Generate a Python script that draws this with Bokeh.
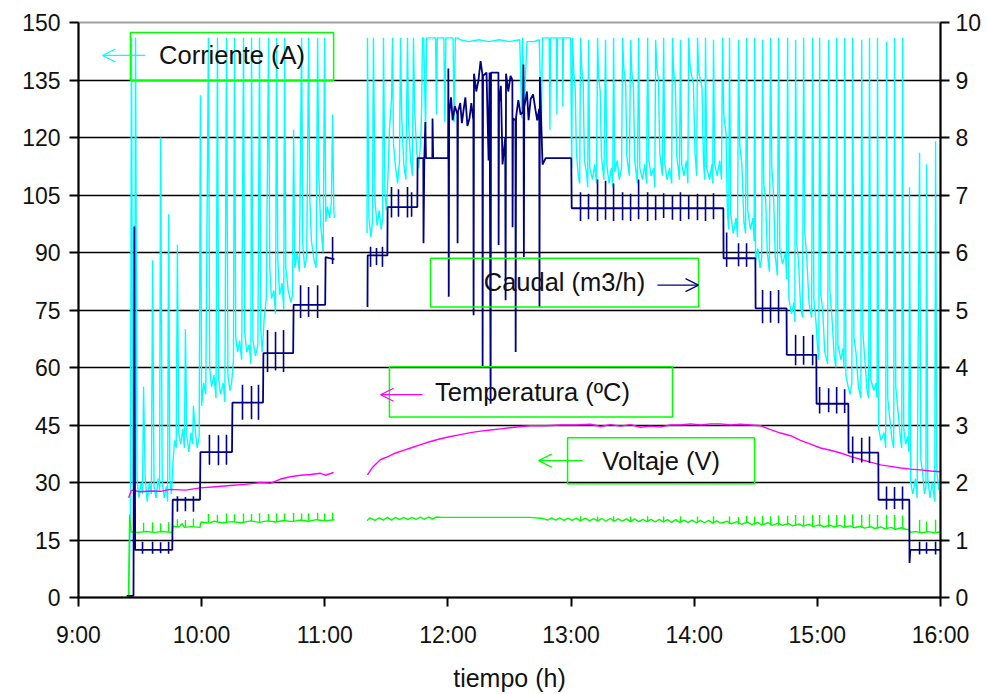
from bokeh.plotting import figure
from bokeh.models import Range1d, LinearAxis, FixedTicker, Arrow, OpenHead
from bokeh.core.properties import value
from bokeh.embed import file_html
from bokeh.resources import INLINE

NaN = float("nan")

# ---------------- data (time in minutes after 9:00) ----------------
time_ticks = [0, 60, 120, 180, 240, 300, 360, 420]
time_labels = ["9:00", "10:00", "11:00", "12:00", "13:00", "14:00", "15:00", "16:00"]
amp_ticks = [0, 15, 30, 45, 60, 75, 90, 105, 120, 135, 150]
grid_ticks = [15, 30, 45, 60, 75, 90, 105, 120, 135]
caudal_ticks = [0, 1, 2, 3, 4, 5, 6, 7, 8, 9, 10]

# Corriente (A): noisy base trace
corriente = [
    (24.4, 0), (25.3, 22), (26.5, 30), (27.2, 27), (28.5, 31), (29.5, 26), (30.5, 30), (31.2, 27),
    (32.5, 31), (33.5, 25), (34.5, 30), (35.5, 27), (36.8, 29), (37.8, 26), (38.8, 31), (39.5, 28),
    (40.8, 30), (41.8, 26), (42.8, 29), (43.4, 25), (44.5, 31), (45.3, 27),
    (46.0, 35), (46.8, 41), (47.6, 39), (48.8, 43), (49.8, 40), (50.8, 44), (51.6, 39), (52.8, 42),
    (53.8, 38), (54.8, 43), (55.6, 40), (56.8, 44), (57.8, 39), (58.8, 42),
    (60.0, 50), (61.0, 56), (62.0, 53), (63.9, 60), (64.8, 55), (66.0, 58), (67.0, 52), (68.3, 57),
    (69.2, 53), (70.5, 56), (71.3, 51), (72.8, 58), (73.8, 54), (74.6, 56),
    (75.5, 62), (76.6, 68), (77.5, 64), (78.5, 67), (79.5, 62), (81.0, 69), (82.0, 64), (83.2, 66),
    (84.0, 61), (85.0, 67), (86.2, 63), (87.4, 66), (88.8, 70), (89.5, 64),
    (90.5, 73), (91.5, 78), (93.2, 86), (94.0, 78), (95.2, 80), (96.0, 74), (97.1, 88), (98.0, 79),
    (99.2, 82), (100.0, 75), (101.0, 86), (102.2, 80), (103.5, 77), (104.3, 79),
    (105.4, 86), (106.5, 90), (107.6, 85), (109.3, 92), (110.2, 86), (111.2, 89), (112.7, 104),
    (113.5, 93), (114.8, 88), (115.8, 86), (117.1, 110), (118.0, 97), (119.2, 90), (120.5, 98),
    (121.3, 102), (122.3, 99), (123.2, 103), (124.4, 101), (124.7, 99),
    (132.0, NaN),
    (140.6, 95), (141.5, 99), (142.5, 94), (143.2, 98), (144.5, 103), (145.5, 97), (146.5, 101),
    (147.5, 96), (148.2, 99), (149.3, 106), (150.0, 101), (150.8, 110), (151.5, 122), (152.5, 130),
    (153.5, 118), (154.5, 112), (155.5, 108), (156.4, 114), (157.5, 125), (158.5, 113), (159.5, 109),
    (160.8, 124), (161.8, 114), (162.7, 110), (163.8, 127), (164.8, 116), (165.8, 112), (166.8, 120),
    (167.2, 128), (168.2, 146), (169.1, 122), (169.6, 146), (174.0, 146), (174.4, 126), (174.8, 146),
    (178.0, 146), (178.5, 124), (179.0, 146), (182.5, 146), (183.0, 124), (183.6, 146),
    (186.0, 145.5), (190.0, 145), (195.0, 145.5), (200.0, 145), (205.0, 145.5), (210.0, 145),
    (215.0, 145.5), (216.0, 125), (217.2, 128), (218.5, 145), (222.0, 145), (224.5, 145.5),
    (225.5, 124), (226.8, 146), (229.3, 146), (229.7, 122), (231.0, 146), (232.8, 146), (233.1, 126),
    (234.5, 146), (235.8, 146), (236.0, 128), (238.0, 146), (239.8, 146), (240.3, 112),
    (241.3, 137), (242.0, 133), (242.6, 116), (243.5, 110), (244.2, 108),
    (245.2, 138), (245.9, 134), (246.5, 114), (247.5, 111), (248.1, 107),
    (249.1, 112), (250.5, 109), (251.5, 113), (252.4, 108),
    (253.4, 136), (254.2, 132), (254.8, 115), (256.0, 109),
    (257.4, 113), (258.5, 108), (259.6, 112), (260.3, 107),
    (261.3, 111), (262.5, 114), (263.5, 109), (264.6, 112),
    (265.7, 138), (266.6, 134), (267.2, 115), (268.4, 110),
    (269.6, 137), (270.4, 133), (271.0, 114), (272.3, 108),
    (273.5, 112), (274.8, 109), (275.9, 113), (276.8, 108),
    (277.9, 114), (279.0, 110), (280.2, 112), (280.8, 107),
    (281.8, 138), (282.6, 135), (283.2, 116), (284.5, 110),
    (285.7, 113), (286.8, 109), (288.0, 112), (289.0, 108),
    (290.0, 137), (290.8, 134), (291.5, 115), (292.8, 109),
    (293.9, 113), (295.0, 110), (296.2, 114), (296.9, 108),
    (297.9, 139), (298.8, 136), (299.6, 134), (300.4, 116), (301.2, 110),
    (302.2, 137), (303.0, 135), (303.8, 133), (304.5, 114), (305.1, 109),
    (306.1, 112), (307.5, 109), (308.6, 113), (309.0, 108),
    (310.0, 113), (311.2, 110), (312.4, 114), (313.3, 109),
    (314.4, 126), (315.5, 121), (316.2, 100), (316.8, 96),
    (317.8, 100), (319.0, 95), (320.4, 99), (321.1, 94),
    (322.2, 118), (323.2, 113), (324.2, 98), (325.0, 95),
    (326.1, 101), (327.4, 96), (328.6, 99), (329.2, 93),
    (329.9, 88), (331.0, 91), (332.1, 86), (332.9, 89),
    (333.9, 108), (334.8, 104), (335.6, 90), (336.6, 85),
    (337.8, 112), (338.6, 106), (339.5, 89), (340.5, 84),
    (341.7, 91), (343.0, 87), (344.5, 90), (345.0, 83),
    (346.1, 78), (347.4, 74), (348.6, 77), (349.0, 72),
    (350.0, 92), (350.8, 88), (351.8, 76), (352.8, 73),
    (353.9, 95), (354.8, 89), (355.9, 77), (357.2, 73),
    (358.3, 78), (359.3, 72), (360.0, 66), (360.7, 62),
    (361.7, 79), (362.6, 75), (363.6, 64), (365.0, 61),
    (366.1, 80), (367.0, 74), (368.2, 63), (369.0, 60),
    (370.0, 66), (371.5, 62), (372.5, 65), (373.0, 60),
    (373.9, 58), (375.0, 55), (376.0, 53), (376.8, 56),
    (377.8, 68), (378.8, 64), (380.0, 55), (381.2, 52),
    (382.2, 69), (383.0, 63), (384.2, 54), (385.0, 52),
    (386.0, 57), (387.5, 54), (388.5, 56), (389.1, 52),
    (389.9, 44), (391.0, 41), (392.5, 43), (393.3, 39),
    (394.3, 52), (395.2, 47), (396.4, 41), (397.2, 39),
    (398.2, 55), (399.2, 49), (400.4, 42), (401.1, 39),
    (402.1, 44), (403.0, 40), (404.0, 42), (404.6, 38),
    (405.5, 30), (406.5, 27), (407.8, 31), (408.6, 26),
    (410.4, 36), (411.2, 33), (412.2, 27), (412.9, 29),
    (413.8, 31), (414.9, 26), (416.0, 30), (417.2, 25),
    (418.2, 33), (419.2, 28), (420.0, 30),
]

# Corriente (A): periodic peaks (time, peak value)
corriente_picos = [
    (25.8, 146), (27.8, 146), (31.7, 55), (36.1, 88), (40.0, 120), (43.9, 100), (48.2, 92),
    (52.1, 70), (56.0, 50), (59.4, 131), (63.3, 146), (67.7, 146), (72.1, 146), (76.0, 146),
    (80.4, 146), (84.3, 146), (88.2, 146), (92.6, 146), (96.5, 146), (100.4, 146), (104.8, 122),
    (108.7, 146), (112.1, 146), (116.5, 146), (119.9, 146), (123.8, 126),
    (140.8, 146), (143.7, 146), (148.6, 146), (153.0, 146), (156.9, 146), (160.3, 146),
    (163.2, 146), (167.6, 146), (171.5, 146), (179.8, 146), (184.7, 146),
    (216.4, 146), (226.1, 146), (230.0, 146), (233.4, 146), (236.3, 146), (240.7, 146),
    (244.6, 146), (248.5, 145.5), (252.9, 146), (256.8, 145.5), (260.7, 146), (265.1, 146),
    (269.0, 145.5), (272.9, 146), (277.3, 146), (281.2, 145.5), (285.1, 146), (289.4, 146),
    (293.3, 145.5), (297.3, 146), (301.6, 146), (305.5, 146), (309.4, 145.5), (313.8, 146),
    (317.2, 146), (321.6, 145.5), (325.5, 146), (329.4, 146), (333.3, 145.5), (337.2, 146),
    (341.1, 146), (345.5, 146), (349.4, 145.5), (353.3, 146), (357.7, 146), (361.1, 146),
    (365.5, 145.5), (369.4, 146), (373.3, 146), (377.2, 146), (381.6, 145.5), (385.4, 146),
    (389.3, 146), (393.7, 145), (397.6, 146), (401.5, 146),
    (404.9, 107), (409.8, 116), (413.2, 113), (417.6, 119),
]

# Caudal (m3/h), right axis
caudal = [
    (23.5, 0.03), (26.8, 0.03), (27.2, 6.45), (27.6, 0.83), (45.7, 0.83), (45.9, 1.70),
    (59.2, 1.70), (59.4, 2.53), (74.8, 2.53), (75.0, 3.39), (89.9, 3.39), (90.1, 4.25),
    (104.6, 4.25), (104.8, 5.09), (120.2, 5.09), (120.4, 5.92), (124.7, 5.88),
    (132.0, NaN),
    (140.8, 5.05), (140.9, 5.95), (150.5, 5.95), (150.6, 6.79), (165.1, 6.79), (165.2, 7.64),
    (168.0, 7.64), (168.1, 6.16), (168.5, 7.64), (169.0, 8.27), (169.3, 7.64), (172.4, 7.64),
    (172.5, 8.33), (172.8, 7.64), (180.1, 7.64), (180.2, 9.2), (180.4, 5.23), (180.6, 8.4),
    (181.5, 8.7), (182.3, 8.3), (183.4, 8.55), (184.6, 8.4), (184.7, 6.16), (184.9, 8.45),
    (186.0, 8.6), (186.8, 8.25), (187.6, 8.47), (188.5, 8.7), (189.5, 8.2), (190.5, 8.33),
    (191.4, 8.6), (192.4, 8.3), (192.5, 4.91), (192.7, 9.11), (193.8, 8.8), (194.9, 9.0),
    (195.9, 9.33), (196.8, 9.1), (196.9, 4.0), (197.1, 9.07), (198.8, 9.13), (199.8, 7.6),
    (200.3, 9.13), (200.8, 3.37), (201.0, 9.13), (204.6, 9.13), (204.7, 6.13), (204.9, 8.6),
    (205.8, 8.9), (206.6, 7.53), (207.9, 8.0), (208.1, 5.17), (208.3, 9.11), (209.4, 8.8),
    (210.5, 9.07), (211.4, 9.0), (211.5, 6.44), (211.7, 8.33), (212.9, 8.3), (213.0, 4.27),
    (213.2, 8.35), (214.3, 8.65), (215.4, 8.4), (216.6, 8.45), (216.8, 9.27), (217.0, 5.92),
    (217.2, 8.53), (218.5, 8.8), (219.3, 8.3), (220.3, 8.67), (221.5, 8.75), (222.7, 8.47),
    (223.5, 8.3), (224.5, 8.5), (224.6, 5.05), (224.8, 9.05), (226.1, 7.53), (227.6, 7.64),
    (240.1, 7.64), (240.3, 6.77), (314.2, 6.77), (314.3, 5.90),
    (329.8, 5.90), (329.9, 5.03), (345.0, 5.03), (345.1, 4.22), (359.5, 4.22), (359.6, 3.37),
    (375.1, 3.37), (375.2, 2.52), (389.7, 2.52), (389.8, 1.70), (404.8, 1.70), (404.9, 0.60),
    (405.3, 0.83), (420.0, 0.83),
]

# Caudal: short marks on each level (time, low, high)
caudal_marcas = [
    (31.2, 0.76, 0.97), (36.1, 0.76, 0.97), (40.0, 0.77, 0.96), (43.9, 0.76, 0.97),
    (48.2, 1.49, 1.76), (52.1, 1.50, 1.75), (56.0, 1.49, 1.76),
    (63.8, 2.31, 2.83), (68.2, 2.30, 2.82), (72.1, 2.31, 2.83),
    (79.9, 3.09, 3.70), (84.3, 3.10, 3.68), (87.7, 3.09, 3.70),
    (92.1, 3.92, 4.65), (96.0, 3.95, 4.62), (99.9, 3.92, 4.65),
    (108.2, 4.86, 5.43), (112.1, 4.88, 5.40), (116.5, 4.86, 5.43),
    (123.8, 5.80, 6.27),
    (142.3, 5.75, 6.10), (145.2, 5.78, 6.08), (148.1, 5.75, 6.10),
    (152.5, 6.61, 7.14), (155.9, 6.62, 7.10), (160.3, 6.61, 7.14), (162.3, 6.62, 7.05),
    (244.6, 6.55, 7.05), (248.5, 6.58, 7.02), (252.9, 6.55, 7.27), (256.8, 6.57, 7.25),
    (260.7, 6.55, 7.20), (265.1, 6.56, 7.05), (269.0, 6.55, 7.02), (272.9, 6.58, 7.27),
    (277.3, 6.55, 7.05), (281.2, 6.56, 7.00), (285.1, 6.60, 7.03), (289.4, 6.57, 7.00),
    (293.3, 6.55, 7.05), (297.3, 6.58, 7.00), (301.6, 6.56, 7.02), (305.5, 6.55, 7.00),
    (309.4, 6.58, 7.03),
    (315.8, 5.75, 6.35), (321.6, 5.76, 6.16), (325.5, 5.75, 6.16),
    (333.3, 4.77, 5.35), (337.2, 4.78, 5.33), (341.1, 4.77, 5.35),
    (349.4, 4.04, 4.57), (353.3, 4.05, 4.55), (357.7, 4.04, 4.57),
    (361.1, 3.20, 3.66), (365.5, 3.22, 3.64), (369.4, 3.20, 3.66), (373.3, 3.21, 3.62),
    (377.2, 2.34, 2.80), (381.6, 2.35, 2.78), (385.4, 2.34, 2.80),
    (393.7, 1.53, 1.93), (397.6, 1.54, 1.92), (401.5, 1.53, 1.93),
    (409.8, 0.75, 0.97), (413.2, 0.76, 0.96), (417.6, 0.75, 0.97),
]

# Temperatura (ºC)
temperatura = [
    (24.4, 26.0), (25.8, 28.0), (30.0, 27.6), (35.1, 27.8), (40.0, 27.7), (44.8, 28.2),
    (52.1, 28.0), (59.4, 28.6), (66.8, 28.9), (74.1, 29.2), (81.4, 29.5), (88.7, 30.0),
    (93.6, 29.8), (98.4, 30.9), (103.3, 31.5), (108.2, 31.9), (113.1, 32.1), (117.9, 32.4),
    (120.4, 31.9), (124.3, 32.6),
    (132.0, NaN),
    (140.8, 32.0), (143.3, 34.0), (147.2, 36.0), (151.1, 36.8), (154.5, 37.7), (158.4, 38.4),
    (161.8, 39.0), (166.7, 39.9), (171.5, 40.7), (176.4, 41.4), (181.3, 42.0), (186.1, 42.5),
    (191.0, 43.0), (195.9, 43.4), (200.8, 43.7), (205.6, 44.0), (210.5, 44.3), (215.4, 44.6),
    (220.3, 44.8), (227.6, 44.8), (234.9, 45.0), (242.2, 45.0), (249.5, 45.2), (254.4, 44.6),
    (259.2, 45.1), (264.1, 44.7), (269.0, 45.1), (273.9, 44.4), (278.7, 44.7), (283.6, 44.5),
    (288.5, 45.0), (293.3, 45.0), (298.2, 45.3), (303.1, 45.0), (308.0, 45.3), (312.8, 45.3),
    (317.7, 45.0), (322.6, 45.2), (327.5, 45.0), (332.3, 44.8), (337.2, 43.8), (342.1, 42.9),
    (347.0, 42.2), (351.8, 41.0), (356.7, 40.0), (361.6, 39.0), (366.4, 38.4), (371.3, 37.7),
    (376.2, 36.8), (381.1, 36.0), (385.9, 35.3), (390.8, 34.6), (395.7, 34.2), (400.6, 33.8),
    (405.4, 33.5), (410.3, 33.3), (415.2, 33.0), (420.0, 32.8),
]

# Voltaje (V): base trace
voltaje = [
    (24.4, 0.0), (24.9, 21.6), (25.6, 17.1), (29.0, 17.0), (33.0, 17.2), (37.0, 17.0), (41.0, 17.2),
    (45.6, 17.0), (46.1, 18.6), (49.0, 18.4), (50.5, 19.3), (51.5, 18.3), (55.0, 18.5), (59.2, 18.3),
    (59.7, 19.7), (64.0, 19.4), (66.0, 19.9), (70.0, 19.5), (75.0, 19.8), (79.0, 19.5), (84.0, 20.0),
    (88.0, 19.6), (92.0, 20.0), (96.0, 19.7), (100.0, 20.1), (104.0, 19.8), (108.0, 20.2),
    (112.0, 19.9), (116.0, 20.3), (120.0, 20.0), (124.7, 20.3),
    (132.0, NaN),
    (140.6, 20.0), (142.0, 20.8), (144.5, 20.1), (146.5, 20.8), (148.5, 20.2), (150.5, 20.9),
    (152.5, 20.2), (154.5, 20.9), (156.5, 20.3), (158.5, 20.9), (160.5, 20.3), (162.5, 20.9),
    (164.5, 20.4), (166.5, 21.0), (168.5, 20.4), (170.5, 21.0), (172.5, 20.5), (174.5, 21.0),
    (177.0, 20.9), (185.0, 20.9), (195.0, 20.9), (205.0, 20.9), (215.0, 20.9), (220.0, 20.9),
    (226.5, 20.6), (228.5, 20.2), (230.5, 20.8), (232.5, 20.2), (234.5, 20.8), (236.5, 20.1),
    (238.5, 20.7), (240.5, 20.1), (242.5, 20.7), (244.5, 20.0), (247, 20.7), (249, 20.0),
    (251, 20.6), (253, 20.0), (255, 20.6), (257, 19.9), (259, 20.6), (261, 19.9), (263, 20.5),
    (265, 19.9), (267, 20.5), (269, 19.8), (271, 20.5), (273, 19.8), (275, 20.4), (277, 19.8),
    (279, 20.4), (281, 19.7), (283, 20.4), (285, 19.7), (287, 20.3), (289, 19.6), (291, 20.3),
    (293, 19.6), (295, 20.2), (297, 19.6), (299, 20.2), (301, 19.5), (303, 20.1), (305, 19.5),
    (307, 20.1), (309, 19.4), (311, 20.0), (313, 19.4), (316, 19.9), (318, 19.2), (321, 19.8),
    (323, 19.1), (326, 19.7), (328, 19.0), (331, 19.6), (333, 18.9), (336, 19.5), (338, 18.8),
    (341, 19.4), (343, 18.8), (346, 19.3), (348, 18.7), (351, 19.2), (353, 18.6), (356, 19.1),
    (358, 18.5), (361, 19.0), (363, 18.4), (366, 18.9), (368, 18.4), (371, 18.8), (373, 18.3),
    (376, 18.7), (378, 18.2), (381, 18.6), (383, 18.1), (386, 18.5), (388, 18.0), (391, 18.4),
    (393, 17.9), (396, 18.3), (398, 17.8), (401, 18.2), (403, 17.8), (404.8, 17.7), (405.2, 17.0),
    (408, 17.2), (411, 16.9), (414, 17.2), (417, 16.9), (420, 17.1),
]

# Voltaje: short peaks (time, low, high)
voltaje_picos = [
    (31.7, 17.0, 19.5), (36.1, 17.1, 19.6), (40.0, 17.0, 19.4), (43.9, 17.1, 19.6),
    (48.2, 18.4, 20.4), (52.1, 18.3, 20.2), (56.0, 18.5, 20.6),
    (63.3, 19.5, 21.8), (67.7, 19.6, 21.6), (72.1, 19.6, 21.9), (76.0, 19.6, 21.7),
    (80.4, 19.6, 21.9), (84.3, 19.8, 21.8), (88.2, 19.7, 22.0), (92.6, 19.9, 21.8),
    (96.5, 19.8, 22.0), (100.4, 20.0, 21.9), (104.8, 19.9, 22.1), (108.7, 20.1, 21.9),
    (112.1, 20.0, 22.0), (116.5, 20.2, 22.1), (119.9, 20.1, 21.9), (123.8, 20.2, 22.2),
    (244.6, 20.0, 21.2), (252.9, 20.0, 21.1), (260.7, 19.9, 21.2), (269.0, 19.8, 21.1),
    (277.3, 19.8, 21.2), (285.1, 19.7, 21.1), (293.3, 19.6, 21.2), (301.6, 19.5, 21.1),
    (309.4, 19.4, 21.2), (317.2, 19.2, 21.1), (321.6, 19.1, 21.0), (325.5, 19.7, 21.3),
    (329.4, 19.0, 21.1), (333.3, 18.9, 21.3), (337.2, 18.8, 21.2), (341.1, 18.8, 21.4),
    (345.5, 18.8, 21.3), (349.4, 18.7, 21.5), (353.3, 18.6, 21.4), (357.7, 18.5, 21.6),
    (361.1, 18.5, 21.5), (365.5, 18.4, 21.6), (369.4, 18.4, 21.5), (373.3, 18.3, 21.6),
    (377.2, 18.2, 21.7), (381.6, 18.1, 21.6), (385.4, 18.1, 21.7), (389.3, 18.0, 21.5),
    (393.7, 17.9, 21.6), (397.6, 17.8, 21.5), (401.5, 17.8, 21.4),
    (409.8, 17.0, 20.2), (413.2, 17.0, 19.8), (417.6, 16.9, 20.3),
]

# Labels of the series (text boxes with arrows)
anot_texto = ["Corriente (A)", "Caudal (m3/h)", "Temperatura (ºC)", "Voltaje (V)"]
anot_color = ["#00ffff", "#000080", "#ff00ff", "#00ff00"]
anot_x = [74.8, 236.8, 221.2, 283.9]
anot_y = [141.4, 82.2, 53.6, 35.7]
caja_izq = [25.3, 171.5, 151.5, 238.3]
caja_der = [124.3, 302.1, 289.4, 329.4]
caja_inf = [134.9, 75.8, 47.1, 29.7]
caja_sup = [147.4, 88.5, 60.2, 41.7]
flecha_desde = [32.6, 282.1, 167.6, 245.6]
flecha_hasta = [11.7, 302.1, 147.2, 224.2]
flecha_y = [141.4, 81.5, 52.9, 35.7]

# ---------------- build ----------------
def unzip(pts):
    return [p[0] for p in pts], [p[1] for p in pts]

corr_pts = sorted(corriente + corriente_picos, key=lambda q: q[0])
cx, cy = unzip(corr_pts)
qx, qy = unzip(caudal)
tx, ty = unzip(temperatura)
vx, vy = unzip(voltaje)

FONT = "Liberation Sans"

p = figure(width=987, height=694, x_range=Range1d(0, 420), y_range=Range1d(0, 150),
           output_backend="svg", toolbar_location=None,
           min_border_left=78, min_border_right=47, min_border_top=22, min_border_bottom=96)
p.extra_y_ranges = {"caudal": Range1d(0, 10)}
p.background_fill_color = "white"
p.border_fill_color = "white"
p.outline_line_color = "#a0a0a0"
p.outline_line_width = 2

p.xgrid.visible = False
p.ygrid.ticker = FixedTicker(ticks=grid_ticks)
p.ygrid.grid_line_color = "#000000"
p.ygrid.grid_line_width = 1.5

p.yaxis.ticker = FixedTicker(ticks=amp_ticks)
p.xaxis.ticker = FixedTicker(ticks=time_ticks)
p.xaxis.major_label_overrides = {t: lab for t, lab in zip(time_ticks, time_labels)}
p.xaxis.axis_label = "tiempo (h)"

right = LinearAxis(y_range_name="caudal", ticker=FixedTicker(ticks=caudal_ticks))
p.add_layout(right, "right")

for ax in p.xaxis + p.yaxis + [right]:
    ax.axis_line_color = "#000000"
    ax.axis_line_width = 2
    ax.major_tick_line_color = "#000000"
    ax.major_tick_line_width = 2
    ax.major_tick_in = 0
    ax.major_tick_out = 9
    ax.minor_tick_line_color = None
    ax.major_label_text_font = FONT
    ax.major_label_text_font_size = "23px"
    ax.major_label_text_color = "#111111"
    ax.axis_label_text_font = FONT
    ax.axis_label_text_font_size = "25px"
    ax.axis_label_text_font_style = "normal"
    ax.axis_label_text_color = "#111111"

p.yaxis[0].major_label_standoff = 9
right.major_label_standoff = 6
p.xaxis.major_label_standoff = 15
p.xaxis.axis_label_standoff = 13

# series
p.line(cx, cy, line_color="#00ffff", line_width=1.4)
p.line(vx, vy, line_color="#00ff00", line_width=1.4)
p.segment(x0=[m[0] for m in voltaje_picos], y0=[m[1] for m in voltaje_picos],
          x1=[m[0] for m in voltaje_picos], y1=[m[2] for m in voltaje_picos],
          line_color="#00ff00", line_width=1.4)
p.line(tx, ty, line_color="#ff00ff", line_width=1.4)
p.line(qx, qy, line_color="#000080", line_width=1.8, y_range_name="caudal")
p.segment(x0=[m[0] for m in caudal_marcas], y0=[m[1] for m in caudal_marcas],
          x1=[m[0] for m in caudal_marcas], y1=[m[2] for m in caudal_marcas],
          line_color="#000080", line_width=1.6, y_range_name="caudal")

# text boxes
p.quad(left=caja_izq, right=caja_der, bottom=caja_inf, top=caja_sup,
       fill_alpha=0, line_color="#00ff00", line_width=1.5)
p.text(x=anot_x, y=anot_y, text=anot_texto, text_font=value(FONT), text_font_size="25.5px",
       text_align="center", text_baseline="middle", text_color="#111111")
for i in range(len(anot_texto)):
    c = anot_color[i]
    p.add_layout(Arrow(end=OpenHead(line_color=c, line_width=1.3, size=13),
                       x_start=flecha_desde[i], y_start=flecha_y[i],
                       x_end=flecha_hasta[i], y_end=flecha_y[i],
                       line_color=c, line_width=1.3))

open("out.html", "w").write(file_html(p, INLINE))
